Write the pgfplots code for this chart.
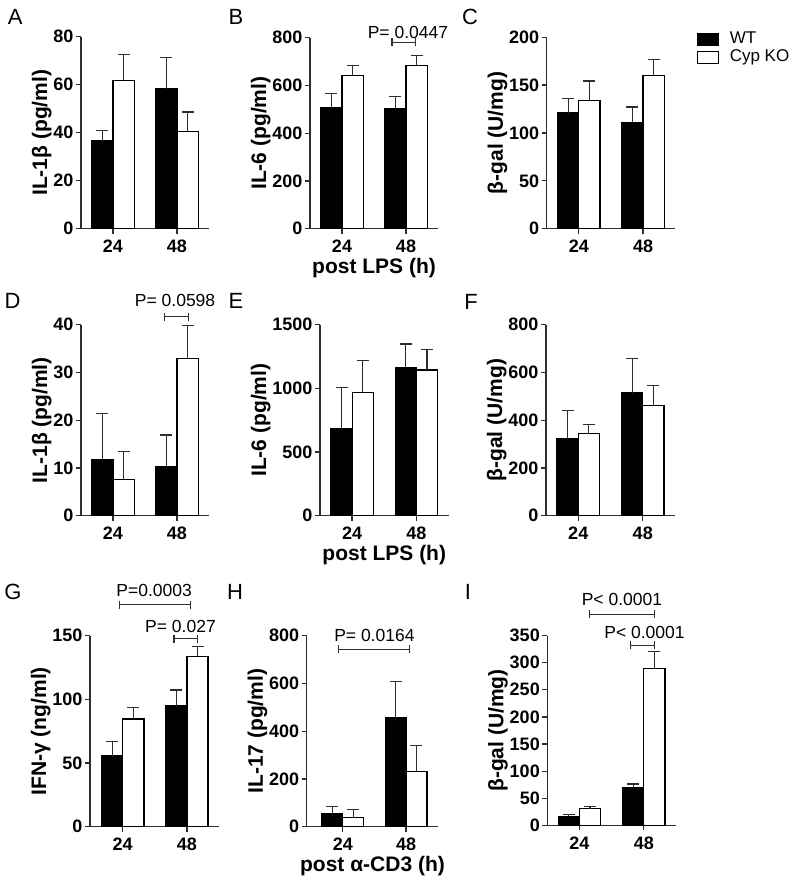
\documentclass[border=0pt]{standalone}
\usepackage{pgfplots}
\pgfplotsset{compat=1.18}
\usepackage{fontspec}
\setmainfont{Liberation Sans}
\definecolor{axc}{gray}{0.18}
\pgfplotsset{
  prism/.style={
    scale only axis, width=128pt, height=191pt,
    axis x line=bottom, axis y line=left,
    axis line style={-, line width=1.3pt, axc},
    xmin=-0.5, xmax=1.5, ymin=0,
    xtick={0,1}, xticklabels={24,48},
    tick align=outside, major tick length=5pt,
    tick style={line width=1.3pt, axc},
    ticklabel style={font=\fontsize{18}{20}\selectfont\bfseries},
    yticklabel style={xshift=1pt},
    xticklabel style={yshift=-3pt},
    label style={font=\fontsize{21}{24}\selectfont\bfseries},
    ylabel style={text height=15pt, text depth=4.5pt},
    ylabel shift=-5pt,
    xlabel shift=-2pt,
    /pgf/number format/assume math mode=true,
    /pgf/number format/1000 sep={},
    anchor=south west, clip=false,
  },
  wt/.style={ybar, bar width=0.33, bar shift=0pt, fill=black, draw=black, line width=1.2pt,
    error bars/.cd, y dir=plus, y explicit, error mark=|,
    error bar style={line width=1.2pt, axc},
    error mark options={line width=1.2pt, mark size=6pt, axc}},
  ko/.style={ybar, bar width=0.33, bar shift=0pt, fill=white, draw=black, line width=1.2pt,
    error bars/.cd, y dir=plus, y explicit, error mark=|,
    error bar style={line width=1.2pt, axc},
    error mark options={line width=1.2pt, mark size=6pt, axc}},
}
\newcommand{\bracket}[3]{%
  \draw[line width=1.2pt, axc] (axis cs:#1,#3) -- (axis cs:#2,#3)
    ([yshift=-4pt]axis cs:#1,#3) -- ([yshift=4pt]axis cs:#1,#3)
    ([yshift=-4pt]axis cs:#2,#3) -- ([yshift=4pt]axis cs:#2,#3);}
\newcommand{\ptext}[3]{%
  \node[font=\fontsize{17.5}{20}\selectfont, inner sep=0pt] at (axis cs:#1,#2) {#3};}
\tikzset{letter/.style={font=\fontsize{22}{24}\selectfont, inner sep=0pt}}
\begin{document}
\begin{tikzpicture}
\path[use as bounding box] (0pt,0pt) rectangle (800pt,889pt);
% panel letters
\node[letter] at (15.3pt,871.8pt) {A};
\node[letter] at (236pt,871.8pt) {B};
\node[letter] at (470pt,871.8pt) {C};
\node[letter] at (12.5pt,588.5pt) {D};
\node[letter] at (236pt,588.5pt) {E};
\node[letter] at (471pt,587.5pt) {F};
\node[letter] at (13pt,297.3pt) {G};
\node[letter] at (235pt,297.3pt) {H};
\node[letter] at (468pt,297.3pt) {I};

% A
\begin{axis}[prism, at={(81pt,660.3pt)}, height=192pt, ymax=80, ytick={0,20,...,80},
  ylabel={IL-1β (pg/ml)}]
\addplot[wt] coordinates {(-0.165,36.5) +- (0,4.5) (0.835,58.2) +- (0,13.2)};
\addplot[ko] coordinates {(0.165,61.8) +- (0,10.7) (1.165,40.6) +- (0,8.0)};
\end{axis}

% B
\begin{axis}[prism, at={(310pt,660.3pt)}, ymax=800, ytick={0,200,...,800},
  ylabel={IL-6 (pg/ml)}, xlabel={post LPS (h)}]
\addplot[wt] coordinates {(-0.165,507) +- (0,60) (0.835,505) +- (0,48)};
\addplot[ko] coordinates {(0.165,642) +- (0,41) (1.165,684) +- (0,43)};
\bracket{0.78}{1.15}{781}
\ptext{1.03}{823}{P= 0.0447}
\end{axis}

% C
\begin{axis}[prism, at={(546.7pt,660.3pt)}, width=128.5pt, height=191.4pt, ymax=200, ytick={0,50,...,200},
  ylabel={β-gal (U/mg)},
  legend style={at={(axis description cs:1.165,1.037)}, anchor=north west, draw=none, fill=none,
    font=\fontsize{17}{19}\selectfont, inner sep=0pt, row sep=0pt,
    nodes={inner sep=0pt, text height=12.6pt, text depth=5.6pt},
    /tikz/every odd column/.append style={column sep=11pt}},
  legend cell align=left,
  legend image code/.code={\draw[#1, line width=1.2pt] (0pt,-6pt) rectangle (21pt,6pt);}]
\addplot[wt] coordinates {(-0.165,121.3) +- (0,14.6) (0.835,111.2) +- (0,16.0)};
\addlegendentry{WT}
\addplot[ko] coordinates {(0.165,133.8) +- (0,20.6) (1.165,160) +- (0,17)};
\addlegendentry{Cyp KO}
\end{axis}

% D
\begin{axis}[prism, at={(81pt,373.3pt)}, ymax=40, ytick={0,10,...,40},
  ylabel={IL-1β (pg/ml)}]
\addplot[wt] coordinates {(-0.165,11.7) +- (0,9.7) (0.835,10.3) +- (0,6.6)};
\addplot[ko] coordinates {(0.165,7.5) +- (0,6.0) (1.165,32.9) +- (0,7.0)};
\bracket{0.80}{1.18}{41.7}
\ptext{0.97}{45.0}{P= 0.0598}
\end{axis}

% E
\begin{axis}[prism, at={(320pt,373.3pt)}, width=128.5pt, ymax=1500, ytick={0,500,1000,1500},
  ylabel={IL-6 (pg/ml)}, xlabel={post LPS (h)}]
\addplot[wt] coordinates {(-0.165,686) +- (0,319) (0.835,1162) +- (0,186)};
\addplot[ko] coordinates {(0.165,966) +- (0,251) (1.165,1144) +- (0,162)};
\end{axis}

% F
\begin{axis}[prism, at={(546pt,373.3pt)}, width=129pt, ymax=800, ytick={0,200,...,800},
  ylabel={β-gal (U/mg)}]
\addplot[wt] coordinates {(-0.165,322) +- (0,120) (0.835,516) +- (0,143)};
\addplot[ko] coordinates {(0.165,343) +- (0,39) (1.165,461) +- (0,85)};
\end{axis}

% G
\begin{axis}[prism, at={(90pt,62.3pt)}, width=129pt, xmin=-0.51, ymax=150, ytick={0,50,100,150},
  ylabel={IFN-γ (ng/ml)}]
\addplot[wt] coordinates {(-0.165,55.8) +- (0,11.0) (0.835,94.8) +- (0,12.5)};
\addplot[ko] coordinates {(0.165,84.6) +- (0,9.1) (1.165,133.8) +- (0,7.6)};
\bracket{-0.05}{1.06}{174.3}
\ptext{0.49}{185.9}{P=0.0003}
\bracket{0.80}{1.17}{147.6}
\ptext{0.90}{157}{P= 0.027}
\end{axis}

% H
\begin{axis}[prism, at={(306.7pt,62.3pt)}, width=131.6pt, xmin=-0.57, xmax=1.51, ymax=800, ytick={0,200,...,800},
  ylabel={IL-17 (pg/ml)}, xlabel={post α-CD3 (h)}]
\addplot[wt] coordinates {(-0.165,55) +- (0,28) (0.835,455) +- (0,152)};
\addplot[ko] coordinates {(0.165,37) +- (0,36) (1.165,232) +- (0,109)};
\bracket{-0.07}{1.05}{743}
\ptext{0.50}{803}{P= 0.0164}
\end{axis}

% I
\begin{axis}[prism, at={(547.3pt,63.5pt)}, width=128.7pt, height=190pt, ymax=350, ytick={0,50,...,350},
  ylabel={β-gal (U/mg)}]
\addplot[wt] coordinates {(-0.165,16.6) +- (0,3.1) (0.835,70.2) +- (0,6.2)};
\addplot[ko] coordinates {(0.165,30.8) +- (0,3.7) (1.165,289) +- (0,30.8)};
\bracket{0.16}{1.17}{389.4}
\ptext{0.66}{416}{P< 0.0001}
\bracket{0.79}{1.16}{332}
\ptext{1.01}{356}{P< 0.0001}
\end{axis}
\end{tikzpicture}
\end{document}
